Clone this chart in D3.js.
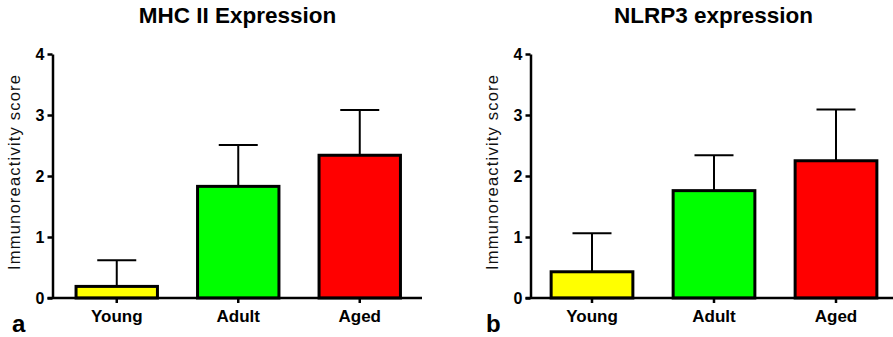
<!DOCTYPE html>
<html>
<head>
<meta charset="utf-8">
<script src="https://cdn.jsdelivr.net/npm/d3@7"></script>
<style>
  html, body { margin: 0; padding: 0; background: #fff; }
  svg { display: block; }
  text { font-family: "Liberation Sans", Arial, sans-serif; }
</style>
</head>
<body>
<svg id="chart" width="893" height="337"></svg>
<script>
// ---- data ----
const categories = ["Young", "Adult", "Aged"];
const barColors = ["#ffff00", "#00ff00", "#ff0000"];
const yTicks = [0, 1, 2, 3, 4];

const mhcTitle = "MHC II Expression";
const mhcMeans = [0.19, 1.83, 2.34];
const mhcErrors = [0.43, 0.68, 0.74];

const nlrpTitle = "NLRP3 expression";
const nlrpMeans = [0.43, 1.76, 2.25];
const nlrpErrors = [0.63, 0.58, 0.84];

const yLabel = "Immunoreactivity score";
const panelLetters = ["a", "b"];

// ---- drawing ----
const svg = d3.select("#chart");

function drawPanel(cfg) {
  const g = svg.append("g");
  const y = d3.scaleLinear().domain([0, 4]).range([298, 54]);
  const x = d3.scaleBand().domain(categories)
    .range([cfg.x0, cfg.x1]).paddingInner(0.33).paddingOuter(0.165);

  // title
  g.append("text")
    .attr("x", cfg.titleX).attr("y", 23)
    .attr("text-anchor", "middle")
    .attr("font-size", 22.5).attr("font-weight", "bold")
    .text(cfg.title);

  // y axis
  const yAxis = d3.axisLeft(y).tickValues(yTicks).tickSize(5).tickSizeOuter(0)
    .tickPadding(3).tickFormat(d3.format("d"));
  const ya = g.append("g").attr("transform", `translate(${cfg.axisX},0)`).call(yAxis);
  ya.select(".domain").attr("stroke", "#000").attr("stroke-width", 2.5);
  ya.selectAll(".tick line").attr("stroke", "#000").attr("stroke-width", 2.5);
  ya.selectAll(".tick text").attr("font-size", 16).attr("font-weight", "bold")
    .attr("font-family", "Liberation Sans, Arial, sans-serif").attr("fill", "#000");

  // y label
  g.append("text")
    .attr("transform", `translate(${cfg.axisX - 33},172.5) rotate(-90)`)
    .attr("text-anchor", "middle")
    .style("font-size", "16.5px")
    .attr("fill", "#111")
    .attr("textLength", 195).attr("lengthAdjust", "spacing")
    .text(yLabel);

  // bars
  const data = categories.map((c, i) => ({ c, m: cfg.means[i], e: cfg.errors[i], col: barColors[i] }));

  // error bars (behind bars)
  const eb = g.append("g").selectAll("g").data(data).join("g");
  eb.append("line")
    .attr("x1", d => x(d.c) + x.bandwidth() / 2).attr("x2", d => x(d.c) + x.bandwidth() / 2)
    .attr("y1", d => y(d.m)).attr("y2", d => y(d.m + d.e))
    .attr("stroke", "#000").attr("stroke-width", 2);
  eb.append("line")
    .attr("x1", d => x(d.c) + x.bandwidth() / 2 - 19.5).attr("x2", d => x(d.c) + x.bandwidth() / 2 + 19.5)
    .attr("y1", d => y(d.m + d.e)).attr("y2", d => y(d.m + d.e))
    .attr("stroke", "#000").attr("stroke-width", 2);

  g.append("g").selectAll("rect").data(data).join("rect")
    .attr("x", d => x(d.c)).attr("width", x.bandwidth())
    .attr("y", d => y(d.m)).attr("height", d => y(0) - y(d.m))
    .attr("fill", d => d.col).attr("stroke", "#000").attr("stroke-width", 3);

  // x axis
  const xAxis = d3.axisBottom(x).tickSize(5).tickSizeOuter(0).tickPadding(7);
  const xa = g.append("g").attr("transform", `translate(0,${y(0)})`).call(xAxis);
  xa.select(".domain").remove();
  xa.selectAll(".tick line").attr("stroke", "#000").attr("stroke-width", 2.5);
  xa.selectAll(".tick text").attr("font-size", 17).attr("font-weight", "bold")
    .attr("font-family", "Liberation Sans, Arial, sans-serif").attr("fill", "#000");
  g.append("line")
    .attr("x1", cfg.axisX - 5).attr("x2", cfg.lineEnd)
    .attr("y1", y(0)).attr("y2", y(0))
    .attr("stroke", "#000").attr("stroke-width", 2.5);

  // panel letter
  g.append("text")
    .attr("x", cfg.letterX).attr("y", 332)
    .attr("font-size", 24).attr("font-weight", "bold")
    .text(cfg.letter);
}

drawPanel({ title: mhcTitle, means: mhcMeans, errors: mhcErrors, letter: panelLetters[0],
  x0: 56, x1: 420.5, axisX: 52.5, lineEnd: 422, titleX: 237.5, letterX: 12 });
drawPanel({ title: nlrpTitle, means: nlrpMeans, errors: nlrpErrors, letter: panelLetters[1],
  x0: 531, x1: 897, axisX: 530.5, lineEnd: 893, titleX: 713.5, letterX: 486 });
</script>
</body>
</html>
